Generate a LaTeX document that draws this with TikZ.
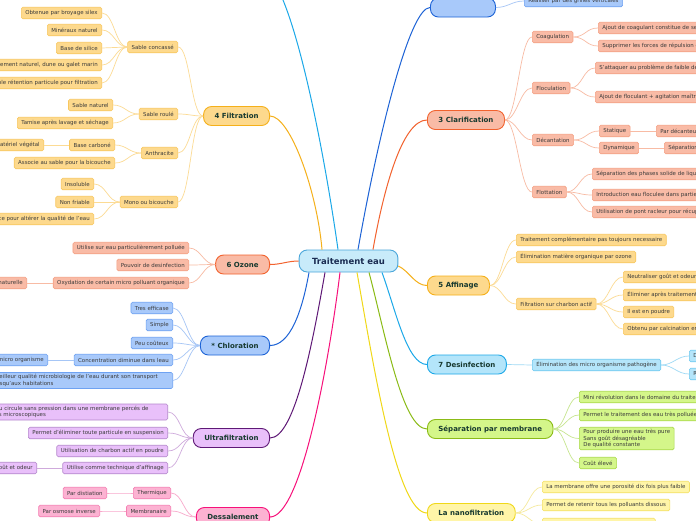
\documentclass[tikz,border=0pt]{standalone}
\usepackage{fontspec}
\setmainfont{DejaVu Sans}
\definecolor{rootFill}{HTML}{C8EBFA}
\definecolor{rootEdge}{HTML}{4AA6DA}
\definecolor{rootText}{HTML}{1A2C52}
\definecolor{mainText}{HTML}{17392F}
\definecolor{leafText}{HTML}{3A3A3A}
\definecolor{filtLine}{HTML}{F5B01A}
\definecolor{filtFill}{HTML}{FDD98D}
\definecolor{filtEdge}{HTML}{F8C75E}
\definecolor{filtLink}{HTML}{FCDB94}
\definecolor{clarLine}{HTML}{F2622E}
\definecolor{clarFill}{HTML}{F9BBA6}
\definecolor{clarEdge}{HTML}{F4A083}
\definecolor{clarLink}{HTML}{F8BBA4}
\definecolor{blueLine}{HTML}{1D63D6}
\definecolor{blueFill}{HTML}{A8C9FA}
\definecolor{blueEdge}{HTML}{6EA2F2}
\definecolor{blueLink}{HTML}{A6C6F6}
\definecolor{cyanLine}{HTML}{1BA8E8}
\definecolor{cyanFill}{HTML}{B4E5FA}
\definecolor{cyanEdge}{HTML}{6CC8F0}
\definecolor{cyanLink}{HTML}{9FDAF5}
\definecolor{greenLine}{HTML}{8BBB17}
\definecolor{greenFill}{HTML}{D4F68A}
\definecolor{greenEdge}{HTML}{A9D94A}
\definecolor{greenLink}{HTML}{C7E690}
\definecolor{yelLine}{HTML}{F0D818}
\definecolor{yelFill}{HTML}{FFF5A8}
\definecolor{yelEdge}{HTML}{F3E064}
\definecolor{yelLink}{HTML}{F6EA9E}
\definecolor{purpLine}{HTML}{5E1876}
\definecolor{purpFill}{HTML}{E9C0FA}
\definecolor{purpEdge}{HTML}{B486CC}
\definecolor{purpLink}{HTML}{CFAADC}
\definecolor{pinkLine}{HTML}{F7107A}
\definecolor{pinkFill}{HTML}{FCB2D2}
\definecolor{pinkEdge}{HTML}{F47FB2}
\definecolor{pinkLink}{HTML}{F8A8CB}

\begin{document}
\begin{tikzpicture}[
    x=1pt, y=1pt,
    root/.style={
        draw=rootEdge, fill=rootFill, line width=0.9pt, rounded corners=8pt,
        minimum height=22pt, inner xsep=13pt,
        font=\fontsize{8.5}{10}\selectfont\bfseries, text=rootText},
    mainbr/.style={
        draw=#1Line, fill=#1Fill, line width=0.9pt, rounded corners=8pt,
        minimum height=19pt, inner xsep=11pt,
        font=\fontsize{7}{8}\selectfont\bfseries, text=mainText},
    leaf/.style={
        draw=#1Edge, fill=#1Fill, line width=0.6pt, rounded corners=1.5pt,
        minimum height=11.5pt, inner xsep=4pt, inner ysep=2pt, align=left,
        font=\fontsize{5.45}{6.5}\selectfont, text=leafText},
    trunk/.style={draw=#1Line, line width=1pt},
    twigL/.style={draw=#1Link, line width=0.7pt, out=180, in=0, distance=12pt},
    twigR/.style={draw=#1Link, line width=0.7pt, out=0, in=180, distance=12pt}
]
\useasboundingbox (0,-520) rectangle (696,0);
\fill[white] (0,-520) rectangle (696,0);
\clip (0,-520) rectangle (696,0);

%% Central topic
\node[root] (root) at (348.5,-261) {Traitement eau};

%% Main branches, left side
\node[mainbr=filt, anchor=east] (filt)   at (270,-116)   {4 Filtration};
\node[mainbr=clar, anchor=east] (ozone)  at (270,-264.5) {6 Ozone};
\node[mainbr=blue, anchor=east] (chlor)  at (270,-345.5) {* Chloration};
\node[mainbr=purp, anchor=east] (ultra)  at (270,-438)   {Ultrafiltration};
\node[mainbr=pink, anchor=east] (dessal) at (270,-517)   {Dessalement};

%% Main branches, right side
\node[mainbr=blue, anchor=west, minimum width=65pt] (pretr) at (430,-7.5) {};
\node[mainbr=clar,  anchor=west] (clar)   at (427,-120)   {3 Clarification};
\node[mainbr=filt,  anchor=west] (affin)  at (427,-285.5) {5 Affinage};
\node[mainbr=cyan,  anchor=west] (desinf) at (427,-364.5) {7 Desinfection};
\node[mainbr=green, anchor=west] (sepmem) at (427,-429)   {Séparation par membrane};
\node[mainbr=yel,   anchor=west] (nano)   at (427,-513)   {La nanofiltration};
\coordinate (hidden) at (260,30);

%% Trunks from the centre
\draw[trunk=cyan] ([xshift=-10.5pt]root.north) to[out=98, in=0, out distance=100pt, in distance=30pt] (hidden);
\draw[trunk=filt] ([xshift=-26.5pt]root.north) to[out=95, in=0, out distance=60pt, in distance=20pt] (filt.east);
\draw[trunk=blue] ([xshift=9.5pt]root.north) to[out=80, in=180, out distance=120pt, in distance=20pt] (pretr.west);
\draw[trunk=clar] ([xshift=24.5pt]root.north) to[out=80, in=180, out distance=60pt, in distance=25pt] (clar.west);
\draw[trunk=clar] (root.west) to[out=180, in=0] (ozone.east);
\draw[trunk=filt] ([yshift=-5pt]root.east) to[out=-25, in=180, out distance=12pt, in distance=12pt] (affin.west);
\draw[trunk=blue] ([xshift=-39.5pt]root.south) to[out=-100, in=0, out distance=40pt, in distance=20pt] (chlor.east);
\draw[trunk=purp] ([xshift=-23.5pt]root.south) to[out=-100, in=0, out distance=70pt, in distance=25pt] (ultra.east);
\draw[trunk=pink] ([xshift=-8.5pt]root.south) to[out=-97, in=0, out distance=100pt, in distance=30pt] (dessal.east);
\draw[trunk=yel] ([xshift=8.5pt]root.south) to[out=-80, in=180, out distance=100pt, in distance=30pt] (nano.west);
\draw[trunk=green] ([xshift=20.5pt]root.south) to[out=-75, in=180, out distance=60pt, in distance=25pt] (sepmem.west);
\draw[trunk=cyan] ([xshift=33.5pt]root.south) to[out=-70, in=180, out distance=40pt, in distance=20pt] (desinf.west);

%% 4 Filtration
\node[leaf=filt, anchor=east] (sableC) at (178,-47)  {Sable concassé};
\node[leaf=filt, anchor=east] (sableR) at (178,-114) {Sable roulé};
\node[leaf=filt, anchor=east] (anthr)  at (178,-153) {Anthracite};
\node[leaf=filt, anchor=east] (mono)   at (178,-202) {Mono ou bicouche};
\node[leaf=filt, anchor=east] (obten)  at (102,-13)  {Obtenue par broyage silex};
\node[leaf=filt, anchor=east] (miner)  at (102,-30)  {Minéraux naturel};
\node[leaf=filt, anchor=east] (silice) at (102,-48)  {Base de silice};
\node[leaf=filt, anchor=east] (gisem)  at (102,-65)  {Gisement naturel, dune ou galet marin};
\node[leaf=filt, anchor=east] (reten)  at (102,-83)  {Faible rétention particule pour filtration};
\node[leaf=filt, anchor=east] (sabnat) at (113,-105) {Sable naturel};
\node[leaf=filt, anchor=east] (tamis)  at (113,-123) {Tamise après lavage et séchage};
\node[leaf=filt, anchor=east] (basec)  at (115,-145) {Base carboné};
\node[leaf=filt, anchor=east] (assoc)  at (115,-163) {Associe au sable pour la bicouche};
\node[leaf=filt, anchor=east] (mater)  at (44,-145)  {Matériel végétal};
\node[leaf=filt, anchor=east] (insol)  at (94,-184)  {Insoluble};
\node[leaf=filt, anchor=east] (nonfr)  at (94,-202)  {Non friable};
\node[leaf=filt, anchor=east] (subst)  at (94,-219)  {Aucune substance pour altérer la qualité de l'eau};
\foreach \k in {sableC, sableR, anthr, mono}
    \draw[twigL=filt] (filt.west) to (\k.east);
\foreach \k in {obten, miner, silice, gisem, reten}
    \draw[twigL=filt] (sableC.west) to (\k.east);
\foreach \k in {sabnat, tamis}
    \draw[twigL=filt] (sableR.west) to (\k.east);
\foreach \k in {basec, assoc}
    \draw[twigL=filt] (anthr.west) to (\k.east);
\draw[twigL=filt] (basec.west) to (mater.east);
\foreach \k in {insol, nonfr, subst}
    \draw[twigL=filt] (mono.west) to (\k.east);

%% 6 Ozone
\node[leaf=clar, anchor=east] (util)   at (189,-248) {Utilise sur eau particulièrement polluée};
\node[leaf=clar, anchor=east] (pouv)   at (189,-265) {Pouvoir de desinfection};
\node[leaf=clar, anchor=east] (oxyd)   at (189,-283) {Oxydation de certain micro polluant organique};
\node[leaf=clar, anchor=east] (matnat) at (27,-283)  {Matière organique naturelle};
\foreach \k in {util, pouv, oxyd}
    \draw[twigL=clar] (ozone.west) to (\k.east);
\draw[twigL=clar] (oxyd.west) to (matnat.east);

%% * Chloration
\node[leaf=blue, anchor=east] (tres)   at (173,-308) {Tres efficase};
\node[leaf=blue, anchor=east] (simple) at (173,-325) {Simple};
\node[leaf=blue, anchor=east] (peu)    at (173,-343) {Peu coûteux};
\node[leaf=blue, anchor=east] (conc)   at (173,-360) {Concentration diminue dans leau};
\node[leaf=blue, anchor=east, text width=174pt] (meill)  at (173,-380.5)
    {Meilleur qualité microbiologie de l'eau durant son transport\\jusqu'aux habitations};
\node[leaf=blue, anchor=east] (micro)  at (48,-360)  {Action sur micro organisme};
\foreach \k in {tres, simple, peu, conc, meill}
    \draw[twigL=blue] (chlor.west) to (\k.east);
\draw[twigL=blue] (conc.west) to (micro.east);

%% Ultrafiltration
\node[leaf=purp, anchor=east, text width=176pt] (circ)  at (168,-412)
    {L'eau circule sans pression dans une membrane percés de\\trous microscopiques};
\node[leaf=purp, anchor=east] (perm)  at (168,-433) {Permet d'éliminer toute particule en suspension};
\node[leaf=purp, anchor=east] (charb) at (168,-451) {Utilisation de charbon actif en poudre};
\node[leaf=purp, anchor=east] (utilc) at (168,-468) {Utilise comme technique d'affinage};
\node[leaf=purp, anchor=east] (gout)  at (37,-468)  {Élimine goût et odeur};
\foreach \k in {circ, perm, charb, utilc}
    \draw[twigL=purp] (ultra.west) to (\k.east);
\draw[twigL=purp] (utilc.west) to (gout.east);

%% Dessalement
\node[leaf=pink, anchor=east] (therm)  at (171,-493) {Thermique};
\node[leaf=pink, anchor=east] (membr)  at (171,-511) {Membranaire};
\node[leaf=pink, anchor=east] (distil) at (107,-493) {Par distiation};
\node[leaf=pink, anchor=east] (osmos)  at (100,-511) {Par osmose inverse};
\foreach \k in {therm, membr}
    \draw[twigL=pink] (dessal.west) to (\k.east);
\draw[twigL=pink] (therm.west) to (distil.east);
\draw[twigL=pink] (membr.west) to (osmos.east);

%% Top branch (cut by the frame)
\node[leaf=blue, anchor=west] (grille) at (524,-1) {Réaliser par des grilles verticales};
\draw[twigR=blue] (pretr.east) to (grille.west);

%% 3 Clarification
\node[leaf=clar, anchor=west] (coag)   at (532,-37)  {Coagulation};
\node[leaf=clar, anchor=west] (floc)   at (532,-88)  {Floculation};
\node[leaf=clar, anchor=west] (decant) at (532,-140) {Décantation};
\node[leaf=clar, anchor=west] (flott)  at (532,-192) {Flottation};
\node[leaf=clar, anchor=west] (ajcoag) at (598,-28)  {Ajout de coagulant constitue de sels métalliques};
\node[leaf=clar, anchor=west] (suppr)  at (598,-46)  {Supprimer les forces de répulsion entre particules};
\node[leaf=clar, anchor=west] (attaq)  at (595,-68)  {S'attaquer au problème de faible densité};
\node[leaf=clar, anchor=west] (ajfloc) at (595,-97)  {Ajout de floculant + agitation maîtrisée};
\node[leaf=clar, anchor=west] (stat)   at (599,-131) {Statique};
\node[leaf=clar, anchor=west] (dyna)   at (599,-148) {Dynamique};
\node[leaf=clar, anchor=west] (pardec) at (656,-131) {Par décanteur};
\node[leaf=clar, anchor=west] (separ)  at (664,-148) {Séparation};
\node[leaf=clar, anchor=west] (phase)  at (592,-174) {Séparation des phases solide de liquide};
\node[leaf=clar, anchor=west] (introd) at (592,-195) {Introduction eau floculee dans partie basse};
\node[leaf=clar, anchor=west] (pont)   at (592,-212) {Utilisation de pont racleur pour récupérer les boues};
\foreach \k in {coag, floc, decant, flott}
    \draw[twigR=clar] (clar.east) to (\k.west);
\foreach \k in {ajcoag, suppr}
    \draw[twigR=clar] (coag.east) to (\k.west);
\foreach \k in {attaq, ajfloc}
    \draw[twigR=clar] (floc.east) to (\k.west);
\foreach \k in {stat, dyna}
    \draw[twigR=clar] (decant.east) to (\k.west);
\draw[twigR=clar] (stat.east) to (pardec.west);
\draw[twigR=clar] (dyna.east) to (separ.west);
\foreach \k in {phase, introd, pont}
    \draw[twigR=clar] (flott.east) to (\k.west);

%% 5 Affinage
\node[leaf=filt, anchor=west] (compl)  at (516,-240) {Traitement complémentaire pas toujours necessaire};
\node[leaf=filt, anchor=west] (elimoz) at (516,-257) {Élimination matière organique par ozone};
\node[leaf=filt, anchor=west] (filtch) at (516,-304) {Filtration sur charbon actif};
\node[leaf=filt, anchor=west] (neutr)  at (623,-277) {Neutraliser goût et odeur};
\node[leaf=filt, anchor=west] (elimap) at (623,-295) {Éliminer après traitement};
\node[leaf=filt, anchor=west] (poudre) at (623,-312) {Il est en poudre};
\node[leaf=filt, anchor=west] (calc)   at (623,-329) {Obtenu par calcination en four};
\foreach \k in {compl, elimoz, filtch}
    \draw[twigR=filt] (affin.east) to (\k.west);
\foreach \k in {neutr, elimap, poudre, calc}
    \draw[twigR=filt] (filtch.east) to (\k.west);

%% 7 Desinfection
\node[leaf=cyan, anchor=west] (pathog) at (532,-365) {Élimination des micro organisme pathogène};
\node[leaf=cyan, anchor=west] (dchl)   at (689,-356) {Dioxyde};
\node[leaf=cyan, anchor=west] (rayon)  at (689,-374) {Rayonnement};
\draw[twigR=cyan] (desinf.east) to (pathog.west);
\foreach \k in {dchl, rayon}
    \draw[twigR=cyan] (pathog.east) to (\k.west);

%% Separation par membrane
\node[leaf=green, anchor=west] (mini)   at (579,-397) {Mini révolution dans le domaine du traitement};
\node[leaf=green, anchor=west] (permt)  at (579,-415) {Permet le traitement des eau très polluées};
\node[leaf=green, anchor=west] (pure)   at (579,-438.5) {Pour produire une eau très pure\\Sans goût désagréable\\De qualité constante};
\node[leaf=green, anchor=west] (cout)   at (579,-463) {Coût élevé};
\foreach \k in {mini, permt, pure, cout}
    \draw[twigR=green] (sepmem.east) to (\k.west);

%% La nanofiltration
\node[leaf=yel, anchor=west] (poros) at (542,-487) {La membrane offre une porosité dix fois plus faible};
\node[leaf=yel, anchor=west] (dissou) at (542,-505) {Permet de retenir tous les polluants dissous};
\node[leaf=yel, anchor=west, minimum width=113pt] (third) at (542,-524) {};
\foreach \k in {poros, dissou, third}
    \draw[twigR=yel] (nano.east) to (\k.west);

\end{tikzpicture}
\end{document}
